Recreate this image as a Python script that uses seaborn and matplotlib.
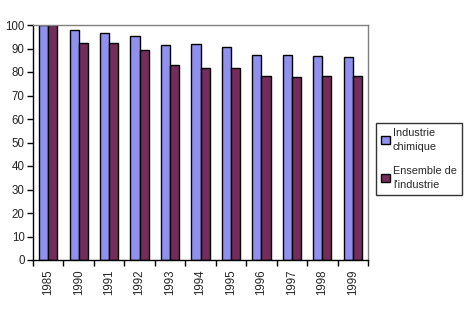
import matplotlib
matplotlib.use("Agg")
import matplotlib.pyplot as plt
import seaborn as sns
import pandas as pd
import numpy as np

years = ["1985", "1990", "1991", "1992", "1993", "1994", "1995", "1996", "1997", "1998", "1999"]
chimique = [100, 97.8, 96.5, 95.2, 91.5, 91.8, 90.6, 87.1, 87.1, 86.7, 86.3]
ensemble = [100, 92.3, 92.3, 89.3, 83.0, 81.7, 81.7, 78.3, 77.8, 78.3, 78.3]
series = ["Industrie\nchimique", "Ensemble de\nl'industrie"]
colors = ["#8080FF", "#802060"]

df = pd.DataFrame({
    "year": years * 2,
    "value": chimique + ensemble,
    "series": [series[0]] * len(years) + [series[1]] * len(years),
})

sns.set_theme(style="white")
plt.rcParams["font.family"] = ["Liberation Sans", "DejaVu Sans"]

fig = plt.figure(figsize=(4.65, 3.09), dpi=100)
ax = fig.add_axes([33 / 465, 1 - 260 / 309, 335 / 465, 235 / 309])

sns.barplot(data=df, x="year", y="value", hue="series", palette=colors,
            width=0.6, edgecolor="black", linewidth=1.0, ax=ax, legend=True)

ax.set_xlim(-0.5, len(years) - 0.5)
ax.set_ylim(0, 100)
ax.set_yticks(np.arange(0, 101, 10))
ax.set_xlabel("")
ax.set_ylabel("")

ax.tick_params(axis="y", which="major", length=4, width=1, color="black",
               labelsize=8.3, direction="out", left=True, pad=2)
ax.set_xticks(range(len(years)))
ax.set_xticklabels(years, rotation=90, fontsize=8.3)
ax.tick_params(axis="x", which="major", length=0, pad=7)
ax.set_xticks(np.arange(-0.5, len(years), 1), minor=True)
ax.tick_params(axis="x", which="minor", length=4, width=1, color="black",
               direction="out", bottom=True)

for s in ["left", "bottom"]:
    ax.spines[s].set_color("black")
    ax.spines[s].set_linewidth(1)
for s in ["top", "right"]:
    ax.spines[s].set_visible(True)
    ax.spines[s].set_color("#808080")
    ax.spines[s].set_linewidth(1)
ax.grid(False)

handles, labels = ax.get_legend_handles_labels()
ax.get_legend().remove()
leg = fig.legend(handles, labels, loc="upper left",
                 bbox_to_anchor=(376 / 465, 1 - 123 / 309),
                 bbox_transform=fig.transFigure, borderaxespad=0,
                 fontsize=7.8, frameon=True, fancybox=False,
                 edgecolor="black", handlelength=0.8, handleheight=0.8,
                 handletextpad=0.3, labelspacing=1.3, borderpad=0.45)
leg.get_frame().set_linewidth(1)
for t in leg.get_texts():
    t.set_linespacing(1.5)

fig.savefig("out.png", dpi=100)
